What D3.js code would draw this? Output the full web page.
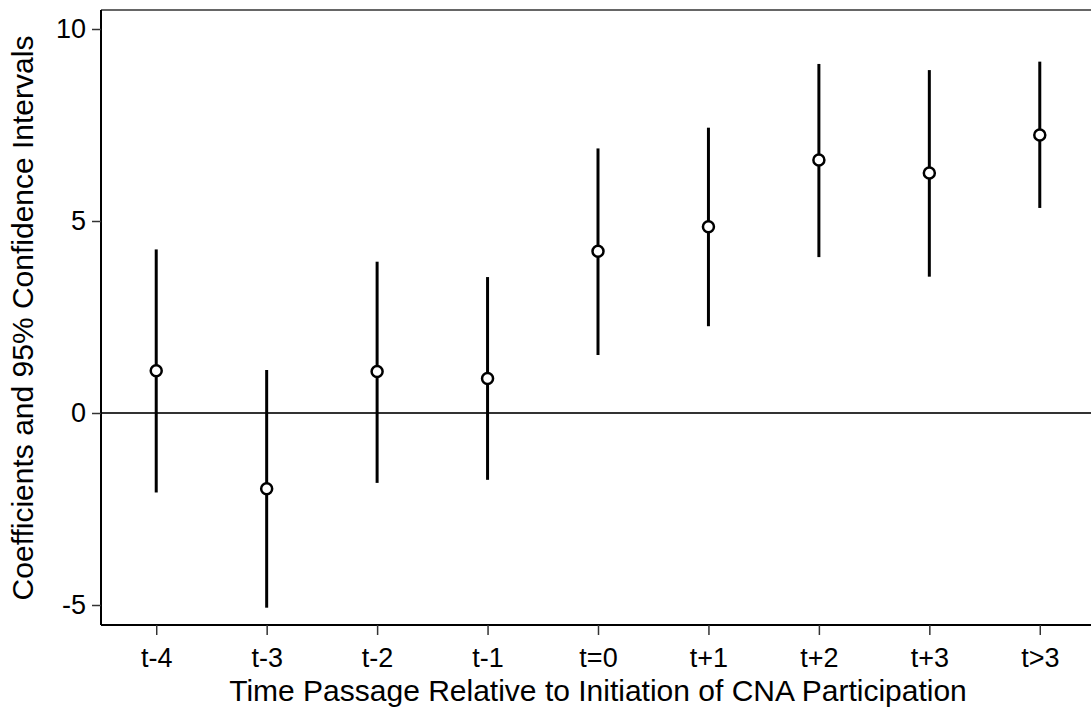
<meta charset="utf-8">
<script src="https://d3js.org/d3.v7.min.js"></script>
<style>
  body { margin: 0; background: white; }
  * { font-family: "Liberation Sans", Arial, sans-serif; }
</style>
<div id="chart"></div>
<script type="text/javascript">
periods = ["t-4", "t-3", "t-2", "t-1", "t=0", "t+1", "t+2", "t+3", "t>3"]
coefs = [1.10, -1.97, 1.08, 0.90, 4.21, 4.85, 6.59, 6.25, 7.24]
upper = [4.26, 1.12, 3.94, 3.54, 6.89, 7.43, 9.09, 8.93, 9.15]
lower = [-2.07, -5.07, -1.82, -1.74, 1.51, 2.26, 4.06, 3.55, 5.34]
yTicks = [-5, 0, 5, 10]

width = 1091
height = 713
plotL = 101, plotT = 10, plotR = 1095, plotB = 625

rows = periods.map((p, i) => ({p: p, b: coefs[i], hi: upper[i], lo: lower[i]}))

svg = d3.select('#chart')
    .append('svg')
    .attr('width', width)
    .attr('height', height)

xScale = d3.scalePoint()
   .domain(periods)
   .range([plotL, plotR])
   .padding(0.5)

yScale = d3.scaleLinear()
   .domain([-5, 10])
   .range([605, 29])

// frame: top line, zero line, then axes
svg.append('line')
  .attr('x1', plotL).attr('x2', width)
  .attr('y1', plotT).attr('y2', plotT)
  .attr('stroke', '#333').attr('stroke-width', 1.5)

svg.append('line')
  .attr('x1', plotL).attr('x2', width)
  .attr('y1', yScale(0)).attr('y2', yScale(0))
  .attr('stroke', '#333').attr('stroke-width', 2)

yAxis = svg.append('g')
  .attr('transform', `translate(${plotL},0)`)
  .call(d3.axisLeft(yScale).tickValues(yTicks).tickSize(9).tickPadding(6).tickFormat(d => String(d)))
yAxis.select('.domain').attr('d', `M0,${plotT}V${plotB}`).attr('stroke-width', 2)

xAxis = svg.append('g')
  .attr('transform', `translate(0,${plotB})`)
  .call(d3.axisBottom(xScale).tickSize(10).tickPadding(13))
xAxis.select('.domain').attr('d', `M${plotL},0H${width}`).attr('stroke-width', 2)

svg.selectAll('.tick line').attr('stroke', '#333').attr('stroke-width', 1.5)
svg.selectAll('.tick text')
  .attr('fill', '#000')
  .style('font-size', '27px')
  .style('font-family', '"Liberation Sans", Arial, sans-serif')

// confidence intervals
svg.selectAll('.ci')
  .data(rows)
  .enter().append('line')
  .attr('class', 'ci')
  .attr('x1', d => xScale(d.p)).attr('x2', d => xScale(d.p))
  .attr('y1', d => yScale(d.hi)).attr('y2', d => yScale(d.lo))
  .attr('stroke', '#000').attr('stroke-width', 3)

svg.selectAll('.pt')
  .data(rows)
  .enter().append('circle')
  .attr('class', 'pt')
  .attr('cx', d => xScale(d.p))
  .attr('cy', d => yScale(d.b))
  .attr('r', 5.5)
  .attr('fill', 'white')
  .attr('stroke', '#000')
  .attr('stroke-width', 2.5)

svg.append('text')
  .attr('transform', 'translate(33,318) rotate(-90)')
  .attr('text-anchor', 'middle')
  .style('font-size', '30px')
  .text('Coefficients and 95% Confidence Intervals')

svg.append('text')
  .attr('x', 598).attr('y', 701)
  .attr('text-anchor', 'middle')
  .style('font-size', '30px')
  .text('Time Passage Relative to Initiation of CNA Participation')
</script>
